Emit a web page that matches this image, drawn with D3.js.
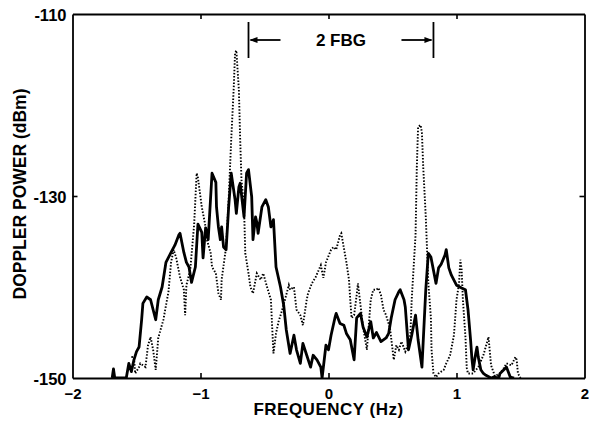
<!DOCTYPE html>
<html>
<head>
<meta charset="utf-8">
<script src="https://cdn.jsdelivr.net/npm/d3@7"></script>
<style>
  html, body { margin: 0; padding: 0; background: #fff; }
  svg { display: block; }
  text { font-family: "Liberation Sans", Arial, Helvetica, sans-serif; font-weight: bold; fill: #000; }
</style>
</head>
<body>
<svg id="chart" width="589" height="427"></svg>
<script>
// Doppler spectrum, solid trace
const freqSolid = [-1.69,-1.68,-1.67,-1.58,-1.56,-1.54,-1.52,-1.50,-1.48,-1.46,-1.45,-1.42,-1.39,-1.37,-1.35,-1.33,-1.30,-1.27,-1.23,-1.20,-1.17,-1.16,-1.13,-1.11,-1.09,-1.07,-1.04,-1.02,-0.99,-0.98,-0.96,-0.94,-0.91,-0.88,-0.875,-0.86,-0.845,-0.835,-0.82,-0.80,-0.78,-0.76,-0.73,-0.72,-0.70,-0.69,-0.66,-0.64,-0.625,-0.60,-0.59,-0.57,-0.56,-0.55,-0.52,-0.49,-0.47,-0.45,-0.43,-0.41,-0.375,-0.35,-0.33,-0.30,-0.27,-0.25,-0.22,-0.20,-0.17,-0.14,-0.12,-0.09,-0.06,-0.05,-0.02,0,0.02,0.05,0.06,0.09,0.12,0.14,0.17,0.20,0.22,0.25,0.27,0.30,0.33,0.35,0.375,0.41,0.45,0.47,0.49,0.52,0.55,0.56,0.59,0.60,0.625,0.65,0.68,0.70,0.73,0.76,0.78,0.80,0.84,0.86,0.88,0.91,0.92,0.94,0.96,1.00,1.04,1.07,1.09,1.11,1.12,1.13,1.15,1.16,1.17,1.19,1.21,1.23,1.27,1.29,1.33,1.34,1.37,1.39,1.42,1.45];
const powerSolid = [-150,-149.0,-150,-150,-148.4,-149.3,-148.0,-147.1,-146.6,-143.6,-141.8,-141.1,-141.4,-142.5,-143.6,-141.4,-140.0,-137.3,-136.2,-135.4,-134.3,-134.1,-136.2,-137.3,-137.8,-139.5,-137.8,-133.1,-134.0,-136.8,-133.5,-134.8,-127.5,-128.5,-131.2,-133.4,-134.8,-133.4,-135.6,-135.9,-131.2,-127.5,-130.4,-131.9,-129.0,-128.6,-132.3,-127.5,-127.1,-130.1,-134.8,-132.3,-132.9,-134.1,-131.2,-130.4,-131.2,-133.4,-132.6,-137.8,-140.0,-142.0,-144.7,-147.3,-145.3,-146.9,-148.4,-146.2,-147.5,-148.8,-147.5,-148.0,-148.8,-150,-146.4,-146.9,-145.3,-143.4,-142.9,-144.0,-144.2,-145.1,-145.8,-148.0,-143.4,-142.9,-144.4,-145.5,-143.8,-145.6,-145.0,-146.0,-145.6,-145.1,-143.4,-141.4,-140.5,-140.3,-141.4,-142.2,-146.9,-145.3,-143.1,-145.8,-148.8,-140.3,-136.3,-136.7,-139.6,-137.9,-137.5,-136.5,-135.9,-137.9,-138.7,-139.8,-140.1,-140.3,-142.5,-145.8,-147.8,-149.1,-147.3,-146.6,-147.7,-149.1,-149.5,-149.7,-150,-149.9,-150,-149.5,-149.1,-148.8,-149.9,-150];

// Doppler spectrum, dotted trace
const freqDotted = [-1.54,-1.52,-1.51,-1.48,-1.47,-1.43,-1.41,-1.39,-1.37,-1.35,-1.33,-1.29,-1.25,-1.23,-1.21,-1.19,-1.16,-1.13,-1.12,-1.11,-1.08,-1.05,-1.03,-1.02,-0.99,-0.96,-0.95,-0.92,-0.91,-0.88,-0.86,-0.84,-0.835,-0.80,-0.78,-0.76,-0.74,-0.73,-0.72,-0.70,-0.69,-0.68,-0.66,-0.65,-0.625,-0.61,-0.59,-0.56,-0.53,-0.51,-0.48,-0.45,-0.44,-0.43,-0.41,-0.39,-0.37,-0.34,-0.31,-0.30,-0.27,-0.25,-0.22,-0.20,-0.17,-0.16,-0.13,-0.10,-0.06,-0.04,-0.02,0.02,0.04,0.06,0.09,0.10,0.12,0.14,0.16,0.17,0.18,0.20,0.22,0.23,0.25,0.27,0.30,0.33,0.35,0.375,0.39,0.41,0.43,0.45,0.48,0.51,0.53,0.55,0.57,0.60,0.625,0.64,0.65,0.68,0.69,0.70,0.72,0.73,0.74,0.76,0.77,0.78,0.80,0.805,0.82,0.84,0.86,0.90,0.92,0.95,0.98,1.00,1.02,1.03,1.04,1.05,1.07,1.08,1.09,1.13,1.17,1.21,1.25,1.27,1.30,1.34,1.37,1.39,1.43,1.46,1.47,1.48,1.50];
const powerDotted = [-147.7,-147.7,-149.5,-148.8,-148.4,-148.8,-146.4,-145.5,-146.9,-149.1,-145.6,-143.6,-140.5,-137.3,-135.9,-136.8,-138.9,-140.3,-143.1,-139.8,-138.1,-133.2,-127.5,-128.0,-131.2,-133.4,-134.8,-136.3,-137.8,-138.5,-140.7,-141.4,-139.2,-135.6,-130.4,-123.8,-118.0,-114.3,-114.0,-118.4,-123.8,-128.2,-131.2,-136.3,-138.5,-140.0,-140.7,-138.5,-139.2,-138.5,-140.0,-141.4,-144.4,-147.3,-145.1,-143.8,-142.9,-141.4,-139.8,-140.3,-140.0,-142.5,-143.1,-144.2,-141.4,-140.7,-139.6,-138.9,-137.6,-139.0,-137.3,-135.9,-135.6,-135.9,-134.3,-134.1,-135.7,-137.3,-139.2,-141.4,-143.4,-143.1,-140.9,-139.6,-142.0,-144.4,-146.9,-141.4,-140.3,-140.3,-140.1,-140.9,-142.5,-143.1,-144.5,-148.0,-146.4,-146.9,-146.0,-147.1,-146.2,-145.1,-141.4,-134.3,-126.8,-122.4,-122.2,-123.1,-126.8,-132.3,-135.9,-139.6,-143.4,-146.9,-149.5,-149.9,-149.5,-149.1,-148.4,-147.5,-145.3,-141.4,-139.6,-137.0,-138.1,-141.4,-145.5,-148.9,-149.5,-149.5,-148.8,-147.5,-145.5,-148.6,-149.8,-149.5,-148.9,-148.4,-148.6,-147.7,-148.0,-149.5,-150];

// Axis ticks and the bracket marking the two gratings
const xTicks = [-2, -1, 0, 1, 2];
const yTicks = [-150, -130, -110];
const fbgSpan = [-0.625, 0.82];
const fbgLabel = "2 FBG";

const W = 589, H = 427;
const margin = { left: 72.5, right: 4.5, top: 14, bottom: 49 };
const x = d3.scaleLinear().domain([-2, 2]).range([margin.left, W - margin.right]);
const y = d3.scaleLinear().domain([-150, -110]).range([H - margin.bottom, margin.top]);

const svg = d3.select("#chart");

svg.append("defs").append("clipPath").attr("id", "plotClip")
  .append("rect")
  .attr("x", x(-2)).attr("y", y(-110))
  .attr("width", x(2) - x(-2)).attr("height", y(-150) - y(-110));

const line = d3.line().x(d => x(d[0])).y(d => y(d[1]));

const plot = svg.append("g").attr("clip-path", "url(#plotClip)");

plot.append("path")
  .datum(d3.zip(freqDotted, powerDotted))
  .attr("d", line)
  .attr("fill", "none")
  .attr("stroke", "#000")
  .attr("stroke-width", 1.9)
  .attr("stroke-dasharray", "1.5 1.7");

plot.append("path")
  .datum(d3.zip(freqSolid, powerSolid))
  .attr("d", line)
  .attr("fill", "none")
  .attr("stroke", "#000")
  .attr("stroke-width", 2.8)
  .attr("stroke-linejoin", "round");

// Frame and inward ticks
const axisStyle = g => {
  g.select(".domain").attr("stroke", "#000").attr("stroke-width", 1.8);
  g.selectAll(".tick line").attr("stroke", "#000").attr("stroke-width", 1.6);
};

const xBottom = svg.append("g")
  .attr("transform", `translate(0,${y(-150)})`)
  .call(d3.axisBottom(x).tickValues(xTicks).tickSize(-5).tickSizeOuter(0).tickPadding(10).tickFormat(d3.format("d")))
  .call(axisStyle);
xBottom.selectAll(".tick text").attr("font-size", 15).attr("dy", "0.71em");
xBottom.selectAll(".tick").filter(d => d === -2 || d === 2).select("line").remove();

svg.append("g")
  .attr("transform", `translate(0,${y(-110)})`)
  .call(d3.axisTop(x).tickValues(xTicks.slice(1, -1)).tickSize(-5).tickSizeOuter(0).tickFormat(""))
  .call(axisStyle);

const yLeft = svg.append("g")
  .attr("transform", `translate(${x(-2)},0)`)
  .call(d3.axisLeft(y).tickValues(yTicks).tickSize(-5).tickSizeOuter(0).tickPadding(6))
  .call(axisStyle);
yLeft.selectAll(".tick text").attr("font-size", 16.5).attr("dy", "0.38em").text(d => "-" + Math.abs(d));
yLeft.selectAll(".tick").filter(d => d === -150 || d === -110).select("line").remove();

svg.append("g")
  .attr("transform", `translate(${x(2)},0)`)
  .call(d3.axisRight(y).tickValues([-130]).tickSize(-5).tickSizeOuter(0).tickFormat(""))
  .call(axisStyle);

// Axis titles
svg.append("text")
  .attr("x", x(0)).attr("y", 415)
  .attr("text-anchor", "middle")
  .attr("font-size", 17)
  .attr("letter-spacing", 0.5)
  .text("FREQUENCY (Hz)");

svg.append("text")
  .attr("transform", `translate(26,${(y(-110) + y(-150)) / 2 - 2}) rotate(-90)`)
  .attr("text-anchor", "middle")
  .attr("font-size", 17.5)
  .text("DOPPLER POWER (dBm)");

// "2 FBG" span marker
const bracket = svg.append("g").attr("stroke", "#000").attr("stroke-width", 1.8);
const markTop = 22, markBottom = 58, arrowY = 40;
fbgSpan.forEach(f => {
  bracket.append("line").attr("x1", x(f)).attr("x2", x(f)).attr("y1", markTop).attr("y2", markBottom);
});
bracket.append("line").attr("x1", x(fbgSpan[0]) + 2).attr("x2", x(fbgSpan[0]) + 32).attr("y1", arrowY).attr("y2", arrowY);
bracket.append("line").attr("x1", x(fbgSpan[1]) - 32).attr("x2", x(fbgSpan[1]) - 2).attr("y1", arrowY).attr("y2", arrowY);
svg.append("path")
  .attr("d", d3.line()([[x(fbgSpan[0]) + 1, arrowY], [x(fbgSpan[0]) + 9, arrowY - 3], [x(fbgSpan[0]) + 9, arrowY + 3]]) + "Z")
  .attr("fill", "#000");
svg.append("path")
  .attr("d", d3.line()([[x(fbgSpan[1]) - 1, arrowY], [x(fbgSpan[1]) - 9, arrowY - 3], [x(fbgSpan[1]) - 9, arrowY + 3]]) + "Z")
  .attr("fill", "#000");
svg.append("text")
  .attr("x", (x(fbgSpan[0]) + x(fbgSpan[1])) / 2)
  .attr("y", arrowY + 6)
  .attr("text-anchor", "middle")
  .attr("font-size", 17)
  .text(fbgLabel);
</script>
</body>
</html>
